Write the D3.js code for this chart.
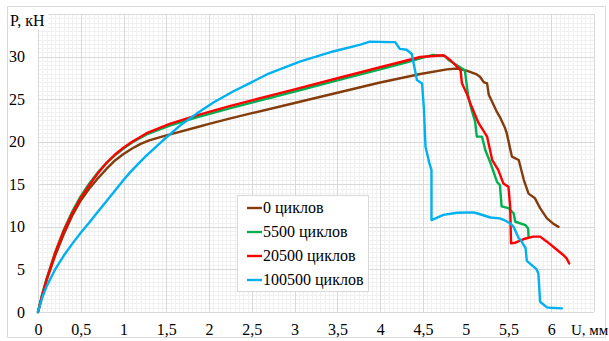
<html><head><meta charset="utf-8">
<script src="https://cdn.jsdelivr.net/npm/d3@7"></script>
<style>html,body{margin:0;padding:0;background:#fff;}svg{display:block;}
text{font-family:"Liberation Serif" !important;}</style>
</head><body>
<svg id="chart" width="609" height="341" font-family="Liberation Serif"></svg>
<script>
// ---- data ----
const seriesNames = ["0 циклов", "5500 циклов", "20500 циклов", "100500 циклов"];
const seriesColors = ["#843c0c", "#00b050", "#ff0000", "#00b0f0"];
const xTicks = [0,0.5,1,1.5,2,2.5,3,3.5,4,4.5,5,5.5,6];
const yTicks = [0,5,10,15,20,25,30];
const xTitle = "U, мм";
const yTitle = "P, кН";

const cycles0 = [[0,0],[0.05,2],[0.1,3.7],[0.2,6.6],[0.3,9.1],[0.4,11.3],[0.5,13.1],[0.6,14.5],[0.65,15.1],[0.7,15.7],[0.8,16.8],[0.9,17.8],[1.0,18.55],[1.1,19.2],[1.2,19.75],[1.3,20.15],[1.47,20.65],[1.6,21.0],[1.856,21.7],[2.0,22.1],[2.25,22.75],[2.5,23.35],[3.0,24.55],[3.5,25.75],[4.0,26.95],[4.47,27.95],[4.78,28.5],[4.9,28.6],[5.01,28.35],[5.13,27.9],[5.17,27.6],[5.21,27.0],[5.25,26.85],[5.27,25.5],[5.29,25.1],[5.365,23.5],[5.40,22.9],[5.46,21.6],[5.48,21.0],[5.54,18.25],[5.62,17.85],[5.68,15.5],[5.735,13.9],[5.81,13.35],[5.87,12.2],[5.95,11.0],[6.02,10.4],[6.085,10.0]];

const cycles5500 = [[0,0],[0.05,2.1],[0.1,3.9],[0.2,7.0],[0.3,9.6],[0.4,11.8],[0.5,13.6],[0.6,15.1],[0.7,16.4],[0.8,17.5],[0.9,18.4],[1.0,19.2],[1.1,19.9],[1.27,20.85],[1.54,21.9],[1.856,22.85],[2.25,23.95],[2.5,24.6],[3.0,25.9],[3.5,27.2],[4.0,28.5],[4.3,29.3],[4.47,29.8],[4.62,30.2],[4.76,30.05],[4.80,29.6],[4.99,28.4],[5.03,25.3],[5.07,23.7],[5.11,22.35],[5.13,20.6],[5.19,20.6],[5.23,19.0],[5.29,17.5],[5.365,15.3],[5.40,14.9],[5.42,12.4],[5.50,12.2],[5.56,11.6],[5.58,10.6],[5.70,10.2],[5.73,9.8],[5.735,8.85]];

const cycles20500 = [[0,0],[0.05,2.0],[0.1,3.8],[0.2,6.9],[0.3,9.5],[0.4,11.6],[0.5,13.4],[0.6,14.9],[0.7,16.3],[0.8,17.5],[0.9,18.5],[1.0,19.3],[1.1,20.0],[1.27,21.0],[1.54,22.1],[1.856,23.1],[2.25,24.2],[2.5,24.85],[3.0,26.15],[3.5,27.45],[4.0,28.75],[4.47,29.95],[4.74,30.15],[4.82,29.6],[4.94,28.4],[4.955,26.9],[5.01,25.7],[5.07,24.1],[5.15,22.2],[5.25,20.6],[5.31,17.85],[5.38,16.7],[5.44,15.1],[5.50,14.7],[5.52,12.4],[5.53,8.07],[5.58,8.14],[5.68,8.57],[5.79,8.85],[5.87,8.85],[5.95,8.26],[6.07,7.28],[6.14,6.7],[6.18,6.3],[6.21,5.7]];

const cycles100500 = [[0,0],[0.05,1.7],[0.1,3.0],[0.2,5.0],[0.3,6.6],[0.4,8.0],[0.5,9.3],[0.6,10.5],[0.686,11.6],[0.8,13.0],[0.88,14.0],[1.0,15.5],[1.076,16.4],[1.2,17.7],[1.27,18.4],[1.466,20.2],[1.66,21.9],[1.856,23.3],[2.05,24.6],[2.28,25.9],[2.5,27.0],[2.675,27.9],[3.06,29.4],[3.45,30.6],[3.77,31.4],[3.88,31.75],[4.08,31.7],[4.175,31.7],[4.23,30.9],[4.31,30.8],[4.37,30.3],[4.43,27.25],[4.49,26.85],[4.51,24.1],[4.53,19.4],[4.58,17.3],[4.60,16.7],[4.60,10.8],[4.74,11.4],[4.90,11.65],[5.09,11.7],[5.13,11.6],[5.29,11.1],[5.40,11.0],[5.45,10.8],[5.52,10.4],[5.56,10.0],[5.62,8.65],[5.64,8.5],[5.70,7.5],[5.715,6.0],[5.83,5.0],[5.85,4.5],[5.87,1.2],[5.95,0.55],[5.99,0.5],[6.125,0.43]];

const seriesData = [cycles0, cycles5500, cycles20500, cycles100500];

// ---- layout ----
const svg = d3.select("#chart");
const pL = 38, pR = 594, pT = 14, pB = 312;
const x = d3.scaleLinear().domain([0, 6.5]).range([pL, pR]);
const y = d3.scaleLinear().domain([0, 35]).range([pB, pT]);
const fontFam = '"Liberation Serif"';

// outer border
svg.append("rect").attr("x", 7.5).attr("y", 6.5).attr("width", 598).attr("height", 331)
  .attr("fill", "#fff").attr("stroke", "#d9d9d9").attr("stroke-width", 1);

// minor grid
const g = svg.append("g");
const xMinor = d3.range(0, 6.5001, 0.05);
const yMinor = d3.range(0, 35.001, 0.5);
g.selectAll(".xm").data(xMinor).join("line")
  .attr("x1", d => Math.round(x(d)) + 0.5).attr("x2", d => Math.round(x(d)) + 0.5)
  .attr("y1", pT).attr("y2", pB).attr("stroke", "#f0f0f0").attr("stroke-width", 1);
g.selectAll(".ym").data(yMinor).join("line")
  .attr("y1", d => Math.round(y(d)) + 0.5).attr("y2", d => Math.round(y(d)) + 0.5)
  .attr("x1", pL).attr("x2", pR).attr("stroke", "#f0f0f0").attr("stroke-width", 1);
// major grid
const xMajor = d3.range(0, 6.5001, 0.5);
const yMajor = d3.range(0, 35.001, 5);
g.selectAll(".xM").data(xMajor).join("line")
  .attr("x1", d => Math.round(x(d)) + 0.5).attr("x2", d => Math.round(x(d)) + 0.5)
  .attr("y1", pT).attr("y2", pB).attr("stroke", "#d9d9d9").attr("stroke-width", 1);
g.selectAll(".yM").data(yMajor).join("line")
  .attr("y1", d => Math.round(y(d)) + 0.5).attr("y2", d => Math.round(y(d)) + 0.5)
  .attr("x1", pL).attr("x2", pR).attr("stroke", "#d9d9d9").attr("stroke-width", 1);

// axes (labels only)
const xAxis = d3.axisBottom(x).tickValues(xTicks).tickSize(0).tickPadding(0)
  .tickFormat(d => String(d).replace(".", ","));
const xa = svg.append("g").attr("transform", `translate(0,${pB})`).call(xAxis);
xa.attr("font-family", "Liberation Serif").attr("font-size", 16);
xa.select(".domain").remove();
xa.selectAll("text").style("font-family", fontFam).style("font-size", "16px").attr("fill", "#000")
  .attr("dy", null).attr("y", 23);

const yAxis = d3.axisLeft(y).tickValues(yTicks).tickSize(0).tickPadding(0);
const ya = svg.append("g").attr("transform", `translate(25,0)`).call(yAxis);
ya.attr("font-family", "Liberation Serif").attr("font-size", 16);
ya.select(".domain").remove();
ya.selectAll("text").style("font-family", fontFam).style("font-size", "16px").attr("fill", "#000").attr("x", 0);

// series
const line = d3.line().x(d => x(d[0])).y(d => y(d[1])).curve(d3.curveLinear);
svg.append("g").selectAll("path").data(seriesData).join("path")
  .attr("d", line).attr("fill", "none")
  .attr("stroke", (d, i) => seriesColors[i]).attr("stroke-width", 2.4)
  .attr("stroke-linejoin", "round").attr("stroke-linecap", "round");

// axis titles
svg.append("rect").attr("x", 8).attr("y", 12).attr("width", 40).attr("height", 18).attr("fill", "#fff");
svg.append("text").attr("x", 10).attr("y", 26).style("font-family", fontFam).style("font-size", "16px")
  .attr("fill", "#000").text(yTitle);
svg.append("text").attr("x", 571).attr("y", 335).style("font-family", fontFam).style("font-size", "15px")
  .attr("fill", "#000").text(xTitle);

// legend
const lg = svg.append("g");
lg.append("rect").attr("x", 237.5).attr("y", 195.5).attr("width", 131).attr("height", 96)
  .attr("fill", "#fff").attr("stroke", "#d9d9d9");
const rows = lg.selectAll("g.row").data(seriesNames).join("g")
  .attr("transform", (d, i) => `translate(0,${208 + i * 24})`);
rows.append("line").attr("x1", 247).attr("x2", 262).attr("y1", 0).attr("y2", 0)
  .attr("stroke", (d, i) => seriesColors[i]).attr("stroke-width", 2.4);
rows.append("text").attr("x", 263).attr("y", 5).style("font-family", fontFam).style("font-size", "16px")
  .attr("fill", "#000").text(d => d);
</script>
</body></html>
